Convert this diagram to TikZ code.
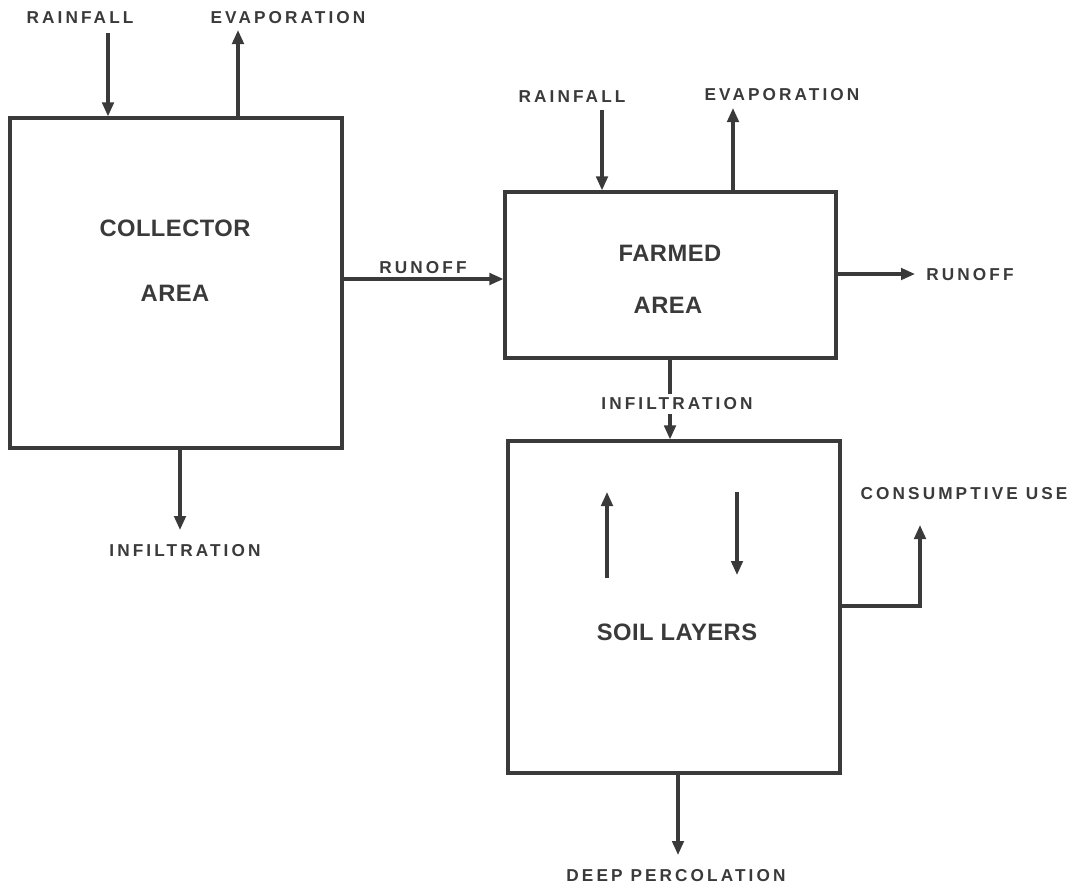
\documentclass[tikz,border=0pt]{standalone}
\usepackage{fontspec}
\setmainfont{Liberation Sans}
\newfontfamily\smalllab[LetterSpace=18]{Liberation Sans}
\newfontfamily\biglab[LetterSpace=2]{Liberation Sans}
\usepackage{xcolor}
\usepackage{tikz}
\usetikzlibrary{arrows.meta,calc,positioning}
\definecolor{ink}{RGB}{58,58,58}

\tikzset{
  box/.style={draw,minimum width=#1,inner sep=0pt},
  flow/.style={->},
  lab/.style={font=\smalllab\bfseries\fontsize{9.8}{11}\selectfont,inner sep=0pt},
  title/.style={font=\biglab\bfseries\fontsize{13.5}{15}\selectfont,inner sep=0pt}
}

\begin{document}
\begin{tikzpicture}[>={Triangle[length=2.8mm,width=2.3mm]},line width=1.8pt,draw=ink,text=ink]
    \useasboundingbox (0,0) rectangle (21.42,-17.72);
    % boxes
    \node[box=6.64cm,minimum height=6.6cm] (coll) at (3.52,-5.66) {};
    \node[box=6.62cm,minimum height=3.32cm] (farm) at (13.41,-5.5) {};
    \node[box=6.64cm,minimum height=6.64cm] (soil) at (13.48,-12.14) {};
    \node[title] (colltop) at (3.5,-4.56) {COLLECTOR};
    \node[title] (collbot) at (3.5,-5.86) {AREA};
    \node[title] (farmtop) at (13.4,-5.06) {FARMED};
    \node[title] (farmbot) at (13.36,-6.1) {AREA};
    \node[title] (soiltxt) at (13.54,-12.64) {SOIL LAYERS};
    % collector area
    \node[lab] (rain1) at (1.6,-0.36) {RAINFALL};
    \node[lab] (evap1) at (5.76,-0.36) {EVAPORATION};
    \coordinate (rain1s) at (2.16,-0.66);
    \coordinate (evap1e) at (4.76,-0.6);
    \draw[flow] (rain1s) -- (rain1s |- coll.north);
    \draw[flow] (evap1e |- coll.north) -- (evap1e);
    \node[lab] (infil1) at (3.7,-11.02) {INFILTRATION};
    \coordinate (infil1e) at (3.6,-10.6);
    \draw[flow] (infil1e |- coll.south) -- (infil1e);
    \node[lab] (run1) at (8.46,-5.36) {RUNOFF};
    \coordinate (run1s) at (6.84,-5.58);
    \draw[flow] (coll.east |- run1s) -- (farm.west |- run1s);
    % farmed area
    \node[lab] (rain2) at (11.44,-1.94) {RAINFALL};
    \node[lab] (evap2) at (15.64,-1.9) {EVAPORATION};
    \coordinate (rain2s) at (12.04,-2.2);
    \coordinate (evap2e) at (14.66,-2.16);
    \draw[flow] (rain2s) -- (rain2s |- farm.north);
    \draw[flow] (evap2e |- farm.north) -- (evap2e);
    \node[lab] (run2) at (19.4,-5.5) {RUNOFF};
    \coordinate (run2e) at (18.3,-5.48);
    \draw[flow] (farm.east |- run2e) -- (run2e);
    \coordinate (infil2x) at (13.4,0);
    \draw[flow] (infil2x |- farm.south) -- (infil2x |- soil.north);
    \node[lab,fill=white,inner sep=2pt] (infil2) at (13.54,-8.08) {INFILTRATION};
    % soil layers
    \coordinate (upa) at (12.14,-11.56);
    \coordinate (upb) at (12.14,-9.84);
    \coordinate (dna) at (14.74,-9.84);
    \coordinate (dnb) at (14.74,-11.5);
    \draw[flow] (upa) -- (upb);
    \draw[flow] (dna) -- (dnb);
    \node[lab] (cons) at (19.28,-9.88) {CONSUMPTIVE USE};
    \coordinate (conse) at (18.4,-10.5);
    \draw[flow] (soil.east |- 0,-12.12) -| (conse);
    \node[lab] (deep) at (13.52,-17.52) {DEEP PERCOLATION};
    \coordinate (deepe) at (13.56,-17.1);
    \draw[flow] (deepe |- soil.south) -- (deepe);
  \end{tikzpicture}
\end{document}
